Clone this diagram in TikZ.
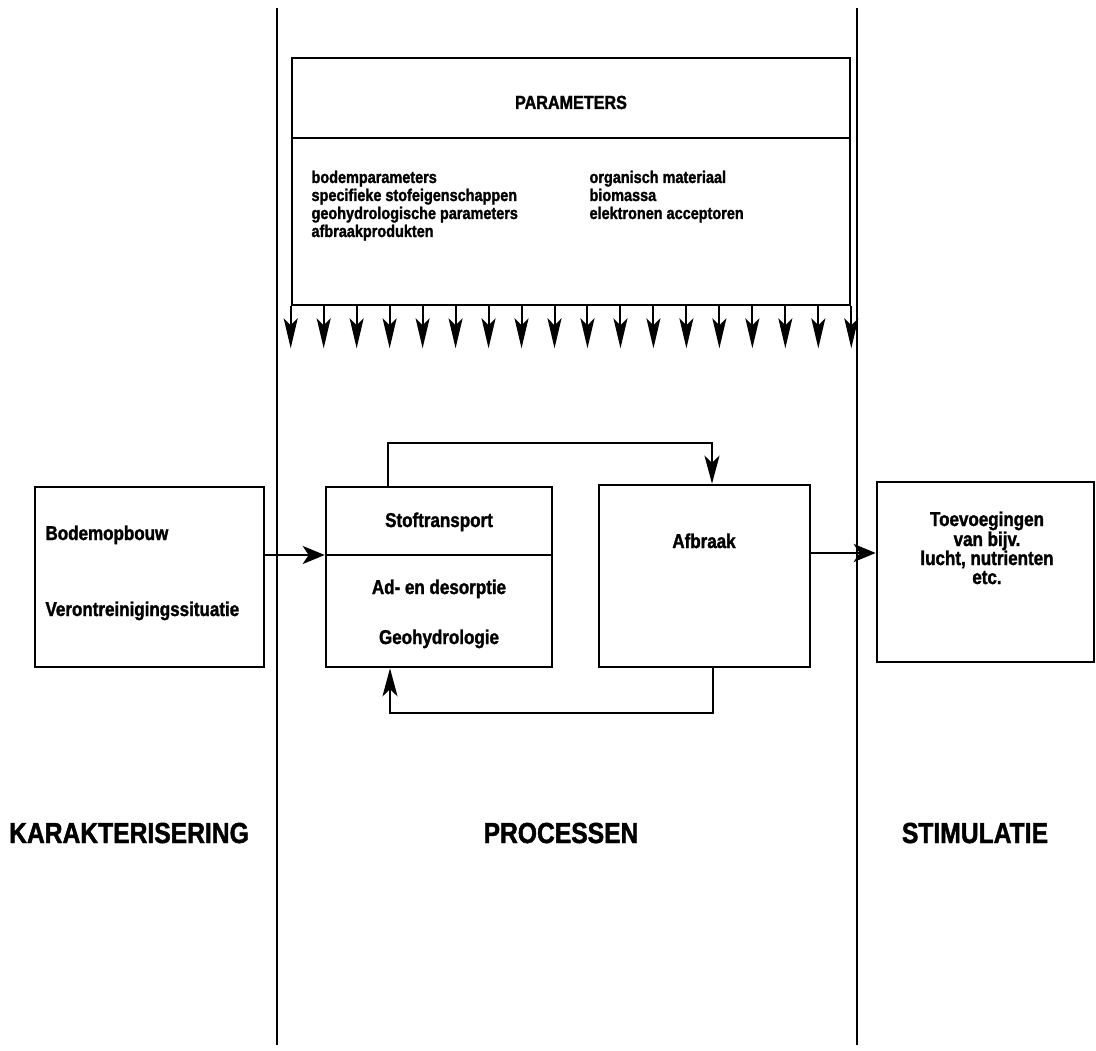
\documentclass[tikz,border=0pt]{standalone}
\usepackage{fontspec}
\setmainfont{Liberation Sans}[FakeStretch=0.85, BoldFeatures={FakeBold=1.6}]
\usetikzlibrary{arrows.meta,calc}
\tikzset{
    box/.style={draw, line width=2.6pt, inner sep=0pt},
    zone/.style={line width=2.2pt},
    txt/.style={font=\bfseries\fontsize{20}{22}\selectfont, anchor=base},
    small/.style={font=\bfseries\fontsize{17}{20}\selectfont, anchor=base west},
    title/.style={font=\bfseries\fontsize{29}{32}\selectfont, anchor=base},
    % arrows
    mainarrow/.style={-{Stealth[length=22pt, width=18pt, inset=6pt]}, line width=2.6pt},
    fbarrow/.style={-{Stealth[length=28pt, width=15pt, inset=7pt]}, line width=2.4pt},
    parrow/.style={-{Stealth[length=30pt, width=14pt, inset=7pt]}, line width=2pt}
}

\begin{document}
\begin{tikzpicture}[x=1pt, y=-1pt]
\useasboundingbox (0,0) rectangle (1096,1051);

% Zone borders
\coordinate (lt) at (277,8);
\coordinate (lb) at (277,1045);
\coordinate (rt) at (857,8);
\coordinate (rb) at (857,1045);
\draw[zone] (lt) -- (lb);
\draw[zone] (rt) -- (rb);

% Parameters box
\node[box, minimum width=558pt, minimum height=247pt] (par) at (571,181.5) {};
\draw[line width=2.2pt] (par.west |- 0,138) -- (par.east |- 0,138);
\node[txt, font=\bfseries\fontsize{19}{22}\selectfont] (partitle) at (571,109) {PARAMETERS};
\foreach \t [count=\k] in {bodemparameters, specifieke stofeigenschappen, geohydrologische parameters, afbraakprodukten}
    \node[small] (pl\k) at (308,165+18*\k) {\t};
\foreach \t [count=\k] in {organisch materiaal, biomassa, elektronen acceptoren}
    \node[small] (pr\k) at (586,165+18*\k) {\t};

% Parameter arrows
\foreach \i in {0,...,17} {
    \coordinate (ps\i) at ($(par.south west)!\i/17!(par.south east)$);
    \coordinate (pt\i) at ($(ps\i)+(0,42)$);
    \draw[parrow] (ps\i) -- (pt\i);
}

% Characterisation box
\node[box, minimum width=229pt, minimum height=180pt] (kar) at (149.5,577) {};
\node[txt, anchor=base west] (bodem) at (42,540) {Bodemopbouw};
\node[txt, anchor=base west] (veront) at (42,616) {Verontreinigingssituatie};

% Process boxes
\node[box, minimum width=226pt, minimum height=180pt] (stof) at (439,577) {};
\draw[line width=2.2pt] (stof.west |- 0,555) -- (stof.east |- 0,555);
\node[txt] (stoft) at (439,527) {Stoftransport};
\node[txt] (adsorp) at (439,594) {Ad- en desorptie};
\node[txt] (geohyd) at (439,644) {Geohydrologie};

\node[box, minimum width=211pt, minimum height=182pt] (afb) at (704.5,576) {};
\node[txt] (afbt) at (704,548) {Afbraak};

% Stimulation box
\node[box, minimum width=217pt, minimum height=180pt] (stim) at (985.5,572) {};
\node[txt] (stim1) at (987,526) {Toevoegingen};
\node[txt] (stim2) at (987,546) {van bijv.};
\node[txt] (stim3) at (987,565) {lucht, nutrienten};
\node[txt] (stim4) at (987,584) {etc.};

% Connections
\draw[mainarrow] (kar.east |- 0,555) -- (stof.west |- 0,555);
\draw[mainarrow] (afb.east |- 0,553) -- (stim.west |- 0,553);
\draw[fbarrow] (stof.north -| 388,0) |- (712,443) -- (afb.north -| 712,0);
\draw[fbarrow] (afb.south -| 713,0) |- (390,713) -- (stof.south -| 390,0);

% Zone titles
\node[title] (kartitle) at (129,843) {KARAKTERISERING};
\node[title] (procttl) at (561,843) {PROCESSEN};
\node[title] (stimttl) at (975,843) {STIMULATIE};
\end{tikzpicture}
\end{document}
